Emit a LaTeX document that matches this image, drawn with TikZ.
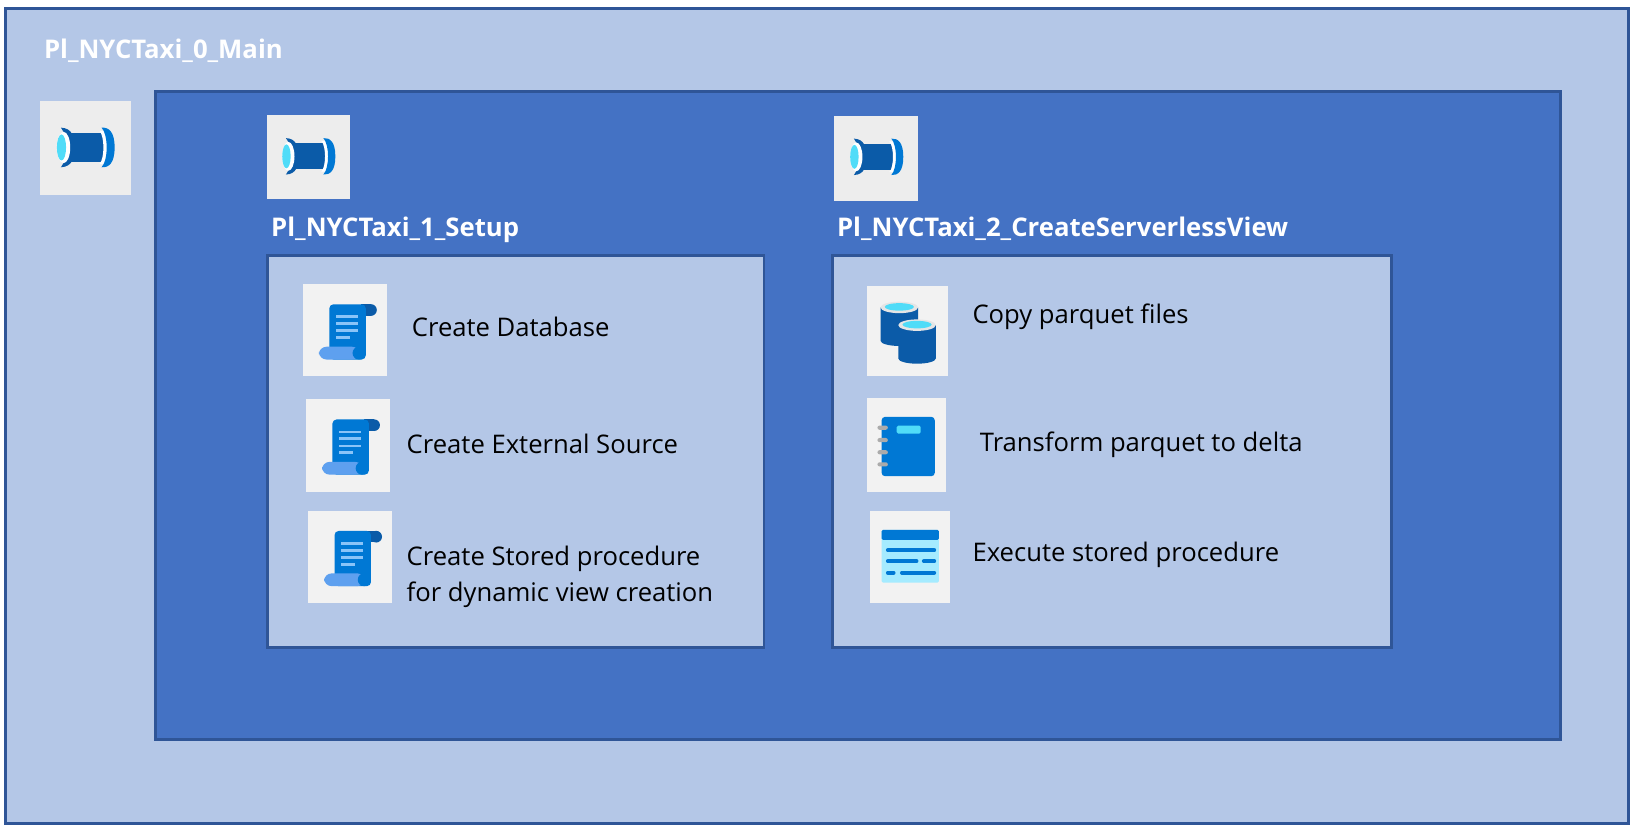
\documentclass[tikz,border=0pt]{standalone}
\usepackage{fontspec}
\setmainfont{Open Sans}
\definecolor{paleblue}{HTML}{B4C7E7}
\definecolor{midblue}{HTML}{4472C4}
\definecolor{edgeblue}{HTML}{2F5597}
\definecolor{pipedark}{HTML}{0B5BA8}
\definecolor{iconblue}{HTML}{0078D4}
\definecolor{iconlight}{HTML}{5EA0EF}
\definecolor{iconline}{HTML}{8AC4F8}
\definecolor{iconcyan}{HTML}{50DCF8}
\definecolor{paneltint}{HTML}{A5EBFF}
\tikzset{
  x=0.75pt,y=-0.75pt,
  panel/.style={draw=edgeblue,line width=2.1pt,fill=#1},
  tile/.style={fill=#1,draw=none},
  label/.style={anchor=base west,inner sep=0pt,font=\fontsize{18.45pt}{20pt}\selectfont,text=black},
  head/.style={anchor=base west,inner sep=0pt,font=\fontsize{18.5pt}{20pt}\selectfont\bfseries,text=white},
}
\newcommand{\pipeicon}[3]{\begin{scope}[shift={(#1,#2)},scale=#3]
  \fill[pipedark] (-20,-13.5) rectangle (17,13.5);
  \fill[pipedark] (-24,-19) .. controls (-13,-18.5) and (-11,-10) .. (-11,0) .. controls (-11,10) and (-13,18.5) .. (-24,19) -- (-21,14) -- (-21,-14) -- cycle;
  \fill[white] (-21.5,0) ellipse (6.4 and 15);
  \fill[iconcyan] (-23.5,0) ellipse (4.4 and 12.5);
  \fill[white] (13,-16) .. controls (18,-10) and (18,10) .. (13,16) -- (18,16) .. controls (23,10) and (23,-10) .. (18,-16) -- cycle;
  \fill[iconblue] (15,-19) .. controls (22,-19.5) and (27.5,-15) .. (27.5,0) .. controls (27.5,15) and (22,19.5) .. (15,19) .. controls (21.5,12) and (21.5,-12) .. (15,-19) -- cycle;
\end{scope}}
\newcommand{\scrollicon}[2]{\begin{scope}[shift={(#1,#2)}]
  \fill[pipedark] (25,-19.5) circle (5.6);
  \fill[pipedark] (15,-25) rectangle (25,-14);
  \fill[iconblue,rounded corners=3] (-15,-25) -- (20,-25) -- (20,28) -- (-15,28) -- cycle;
  \fill[iconlight,rounded corners=5.5] (-25,15.7) rectangle (14,28);
  \fill[iconblue] (13.5,21.8) circle (6.2);
  \foreach \ly/\lx in {-13/12.8,-6.4/12.8,0.4/12.8,7/5}{\fill[iconline] (-9,\ly-1.3) rectangle (\lx,\ly+1.3);}
\end{scope}}
\begin{document}
\begin{tikzpicture}
\useasboundingbox (0,0) rectangle (1568,793);
\fill[white] (0,0) rectangle (1568,793);
\node[panel=paleblue,inner sep=0pt,anchor=north west,minimum width=1168.5pt,minimum height=586.5pt] (mainbox) at (3.7,6.8) {};
\node[panel=midblue,inner sep=0pt,anchor=north west,minimum width=1011.5pt,minimum height=466pt] (innerbox) at (147.7,86.8) {};
\node[panel=paleblue,inner sep=0pt,anchor=north west,minimum width=357pt,minimum height=282pt] (setupbox) at (255.7,243.8) {};
\node[panel=paleblue,inner sep=0pt,anchor=north west,minimum width=402pt,minimum height=282pt] (viewbox) at (797.7,243.8) {};

\node[head] (maintitle) at (42,56) {Pl\_NYCTaxi\_0\_Main};
\node[head] (setuptitle) at (260,227) {Pl\_NYCTaxi\_1\_Setup};
\node[head] (viewtitle) at (803,227) {Pl\_NYCTaxi\_2\_CreateServerlessView};

\fill[tile={black!7}] (38,97) rectangle (126,187);
\pipeicon{82.5}{141.5}{1}
\fill[tile={black!7}] (256,110) rectangle (336,191);
\pipeicon{296.5}{150}{0.92}
\fill[tile={black!7}] (800,111) rectangle (881,193);
\pipeicon{841.5}{150.5}{0.92}

\fill[tile={black!5}] (291,273) rectangle (371,361);
\scrollicon{331}{317}
\fill[tile={black!5}] (294,383) rectangle (374,472);
\scrollicon{334}{427.5}
\fill[tile={black!5}] (296,490) rectangle (376,579);
\scrollicon{336}{534.5}

\fill[tile={black!5}] (832,274) rectangle (910,361);
\foreach \cx/\ct/\cb in {863/295/331,880/312/348}{
  \fill[pipedark] (\cx-18,\ct) -- (\cx+18,\ct) -- (\cx+18,\cb-4) arc[x radius=18,y radius=-5,start angle=0,end angle=-180] -- cycle;
  \fill[black!10] (\cx,\ct) ellipse (18 and 5.5);
  \fill[iconcyan] (\cx,\ct-0.5) ellipse (14 and 3.6);
}

\fill[tile={black!5}] (832,382) rectangle (908,472);
\fill[iconblue,rounded corners=2.5] (846,400) rectangle (897,457);
\fill[iconcyan,rounded corners=1] (860.5,408.5) rectangle (883.5,416);
\foreach \ry in {410.4,422.3,434,445.6}{\fill[black!33,rounded corners=1.5] (842,\ry-2) rectangle (852,\ry+2);}

\fill[tile={black!5}] (835,490) rectangle (912,579);
\fill[paneltint,rounded corners=1] (846,508.5) rectangle (901,559);
\fill[iconblue,rounded corners=1] (846,508.5) rectangle (901,518);
\foreach \xa/\xb/\yy in {850.5/898/528,850.5/881/538.5,885/898/538.5,850.5/859/549.5,864/898/549.5}{\draw[iconblue,line width=2.8pt,line cap=round] (\xa+1.5,\yy) -- (\xb-1.5,\yy);}

\node[label] (t1) at (395,323) {Create Database};
\node[label] (t2) at (390,435) {Create External Source};
\node[label] (t3) at (390,543) {Create Stored procedure};
\node[label] (t4) at (390,577) {for dynamic view creation};
\node[label] (t5) at (933,310) {Copy parquet files};
\node[label] (t6) at (940,433) {Transform parquet to delta};
\node[label] (t7) at (933,539) {Execute stored procedure};
\end{tikzpicture}
\end{document}
